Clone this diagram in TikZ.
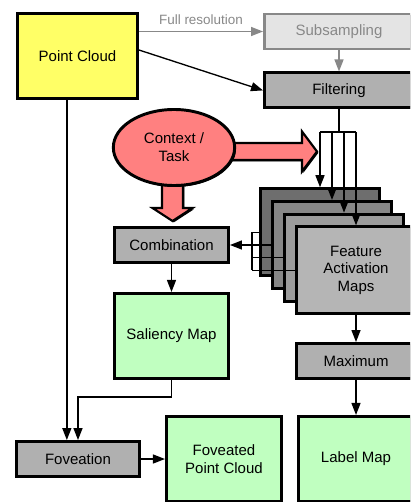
\documentclass[tikz,border=0pt]{standalone}
\usepackage{fontspec}
\setmainfont{Liberation Sans}
\usetikzlibrary{arrows.meta,positioning,shapes.geometric,shadows}
\definecolor{CloudYellow}{HTML}{FFFF66}
\definecolor{MapGreen}{HTML}{C0FFC0}
\definecolor{StepGray}{HTML}{B0B0B0}
\definecolor{TaskRed}{HTML}{FF8080}
\definecolor{FadeGray}{HTML}{E4E4E4}
\definecolor{FadeLine}{HTML}{888888}

\begin{document}
\begin{tikzpicture}[x=0.75pt,y=-0.75pt,
  >={Triangle[length=9pt,width=6.75pt]},
  font=\fontsize{11.25}{13.3}\selectfont,
  shade/.style={drop shadow={shadow xshift=1pt,shadow yshift=-1pt,fill=black,opacity=1}},
  stepbox/.style={draw,line width=2.2pt,fill=StepGray,shade,align=center,inner sep=2pt,
    minimum width=85.5pt,minimum height=26.25pt},
  databox/.style={stepbox,fill=MapGreen,minimum width=86.25pt,minimum height=63.75pt},
  mapbox/.style={stepbox,minimum width=89.25pt,minimum height=65.25pt},
  con/.style={line width=1pt},
  fadecon/.style={con,FadeLine},
  bigarrow/.style={draw,line width=1.6pt,fill=TaskRed,line join=miter,shade}]
  \useasboundingbox (0,0) rectangle (410,502);
  \clip (0,0) rectangle (410,502);
  % inputs
  \node[stepbox,fill=CloudYellow,minimum width=90pt,minimum height=63.75pt] (pc) at (77.5,56) {Point Cloud};
  \node[stepbox,draw=FadeLine,fill=FadeGray,text=FadeLine,minimum width=111.75pt,
    drop shadow={shadow xshift=1pt,shadow yshift=-1pt,fill=FadeLine,opacity=1}] (sub) at (339,31.5) {Subsampling};
  \node[stepbox,minimum width=111.75pt,below=15.75pt of sub] (filt) {Filtering};
  \draw[fadecon,->] (pc.east |- sub.west) -- node[above=1.5pt,font=\fontsize{10.1}{12}\selectfont]{Full resolution} (sub.west);
  \draw[fadecon,->] (sub) -- (filt);
  \draw[con,->] ([yshift=4.5pt]pc.east) -- (filt.west);
  % context / task
  \draw[bigarrow] (225,143) -- (302,143) -- (302,131.5) -- (317,151.5) -- (302,171.5) -- (302,160) -- (225,160) -- cycle;
  \draw[bigarrow] (162,175) -- (162,208) -- (152.5,208) -- (172.5,221) -- (192.5,208) -- (183,208) -- (183,175) -- cycle;
  \node[ellipse,draw,line width=2.2pt,fill=TaskRed,shade,align=center,inner sep=0pt,
    minimum width=91pt,minimum height=57pt] (ctx) at (174,147.5) {Context /\\Task};
  % feature maps
  \foreach \i/\tone in {1/57,2/47,3/39}
    \node[mapbox,fill=black!\tone] (map\i) at ({308+12*\i},{219.5+12.7*\i}) {};
  \node[mapbox,fill=black!29] (map4) at (356,270.3) {Feature\\Activation\\Maps};
  \coordinate[below=17pt of filt.south] (fsplit);
  \draw[con] (filt) -- (fsplit);
  \draw[con] (map1.north |- fsplit) -- (map4.north |- fsplit);
  \foreach \i in {1,...,4}
    \draw[con,->] (map\i.north |- fsplit) -- (map\i.north);
  % saliency branch
  \node[stepbox] (comb) at (171.5,245) {Combination};
  \node[databox,minimum width=85.5pt,below=21pt of comb] (sal) {Saliency Map};
  \coordinate[left=5.25pt of map1.west] (mjoin);
  \foreach \i in {1,...,4}
    \draw[con] (map\i.west) -- (map\i.west -| mjoin);
  \draw[con] (map1.west -| mjoin) -- (map4.west -| mjoin);
  \draw[con,->] (comb.east -| mjoin) -- (comb.east);
  \draw[con,->] (comb) -- (sal);
  % label branch
  \node[stepbox,minimum width=89.25pt] (max) at (356,361) {Maximum};
  \node[databox,below=26.25pt of max] (label) {Label Map};
  \draw[con,->] (map4.south) -- (map4.south |- max.north);
  \draw[con,->] (max) -- (label);
  % foveation
  \node[stepbox,minimum width=92.25pt] (fov) at (78,459) {Foveation};
  \node[databox,right=18pt of fov] (fpc) {Foveated\\Point Cloud};
  \draw[con,->] ([xshift=-8pt]pc.south) -- ([xshift=-8pt]pc.south |- fov.north);
  \draw[con,->] (sal.south) -- ++(0,17) -| (fov.north);
  \draw[con,->] (fov) -- (fpc);
\end{tikzpicture}
\end{document}
